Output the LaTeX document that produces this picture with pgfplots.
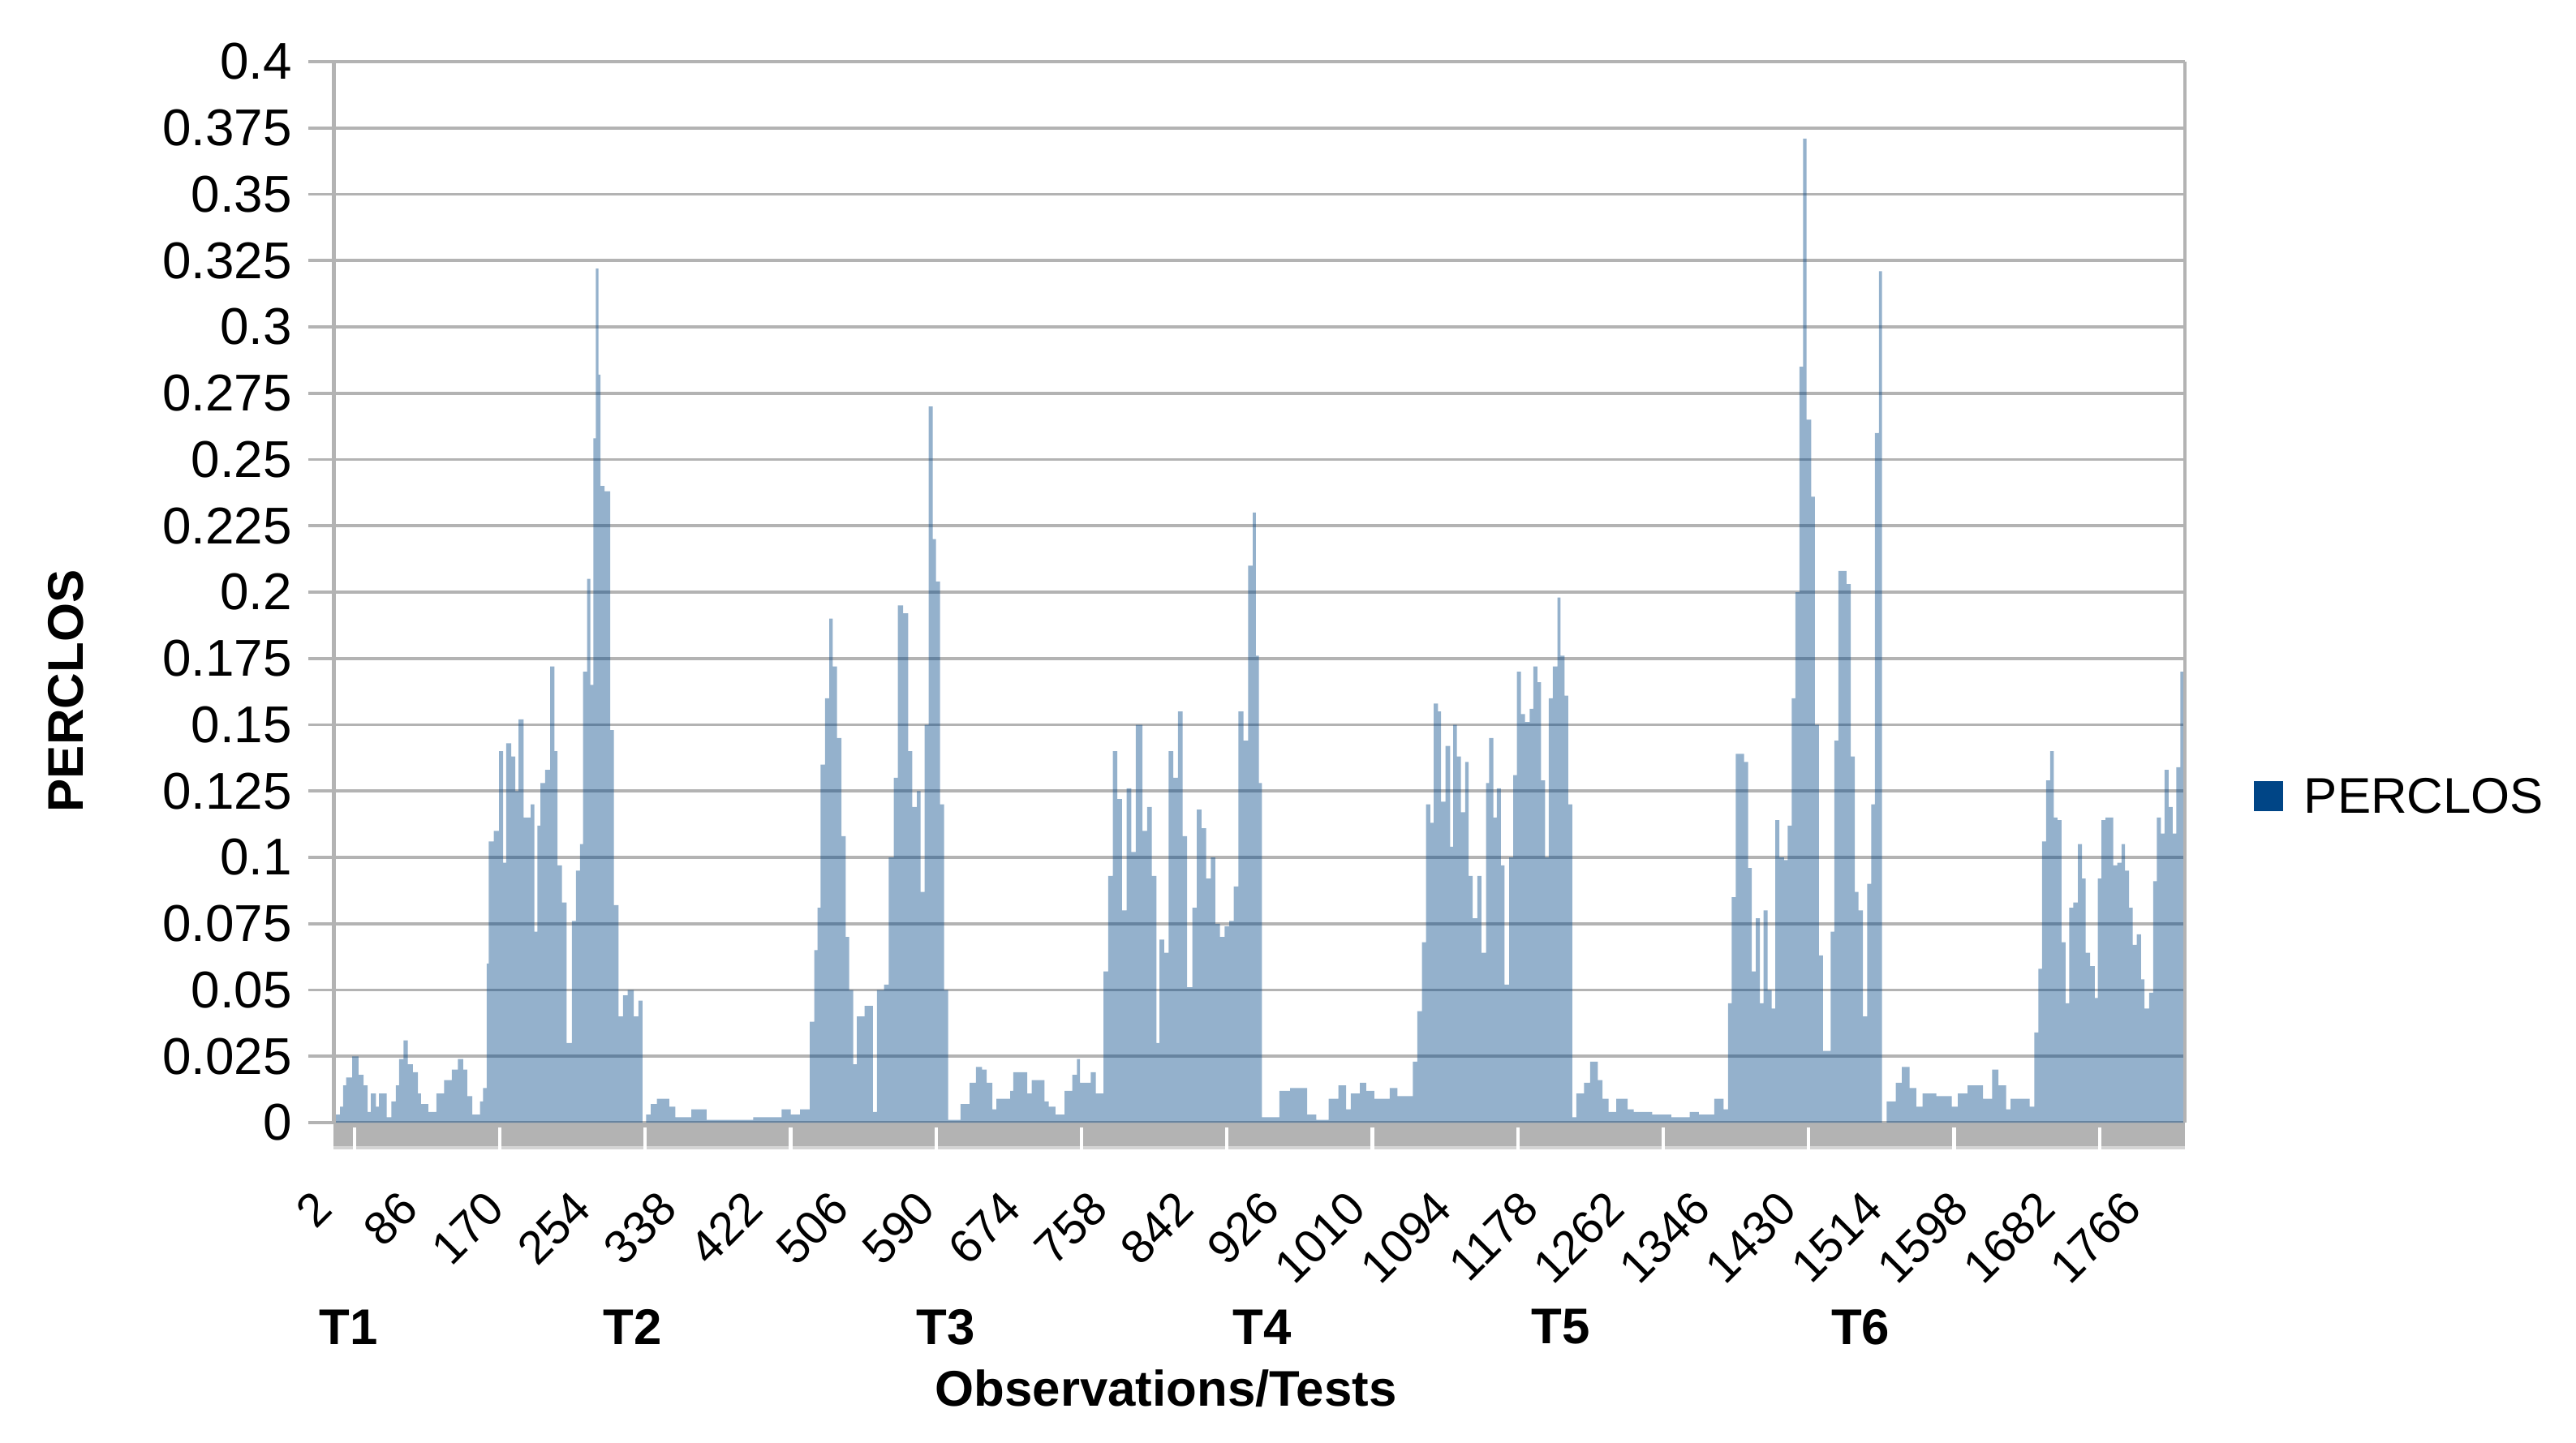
\documentclass[border=0pt]{standalone}
\usepackage{fontspec}
\setmainfont{Liberation Sans}
\usepackage{pgfplots}
\pgfplotsset{compat=1.18}
\definecolor{gridgray}{RGB}{179,179,179}
\definecolor{bandlight}{RGB}{212,212,212}
\definecolor{lobl}{RGB}{0,69,134}
\begin{document}
\begin{tikzpicture}
\path[use as bounding box] (-102.875bp,-98.75bp) rectangle (690.875bp,346bp);
\begin{axis}[
  at={(0,0)}, anchor=south west,
  scale only axis, width=570.4bp, height=327bp,
  xmin=0, xmax=1805, ymin=0, ymax=0.4,
  clip=false,
  axis line style={draw=none},
  ymajorgrids, grid style={draw=gridgray, line width=0.9bp},
  ytick={0,0.025,0.05,0.075,0.1,0.125,0.15,0.175,0.2,0.225,0.25,0.275,0.3,0.325,0.35,0.375,0.4},
  yticklabels={0,0.025,0.05,0.075,0.1,0.125,0.15,0.175,0.2,0.225,0.25,0.275,0.3,0.325,0.35,0.375,0.4},
  ytick pos=left, tick align=outside, major tick length=7.75bp,
  ytick style={draw=gridgray, line width=0.9bp},
  xtick={1.5,85.5,169.5,253.5,337.5,421.5,505.5,589.5,673.5,757.5,841.5,925.5,1009.5,1093.5,1177.5,1261.5,1345.5,1429.5,1513.5,1597.5,1681.5,1765.5},
  xticklabels={2,86,170,254,338,422,506,590,674,758,842,926,1010,1094,1178,1262,1346,1430,1514,1598,1682,1766},
  xtick style={draw=none},
  yticklabel style={font=\fontsize{16}{19}\selectfont, anchor=east, inner sep=0pt, xshift=-5bp},
  xticklabel style={font=\fontsize{14.5}{17}\selectfont, rotate=45, anchor=north east, inner sep=0pt, yshift=-3.5bp, xshift=-14bp},
  /pgf/number format/assume math mode=true,
]
\addplot[const plot mark left, draw=none, fill=lobl, fill opacity=0.42] coordinates {
(0,0.003)(6,0.006)(9,0.014)(12,0.017)(18,0.025)(24,0.018)(29,0.014)(33,0.004)(36,0.011)(41,0.006)(44,0.011)(51.5,0.002)(56,0.008)(60.5,0.014)(63.5,0.024)(68,0.031)(72,0.022)(77,0.019)(82,0.011)(85,0.007)(92,0.004)(100,0.011)(107.5,0.016)(115,0.020)(121,0.024)(126,0.020)(130,0.010)(135,0.003)(142.5,0.008)(145.5,0.013)
(149,0.06)(151,0.106)(156,0.110)(161,0.140)(165,0.098)(168,0.143)(173,0.138)(177,0.125)(180,0.152)(185,0.115)(192,0.120)(195.5,0.072)(198.5,0.112)(201.5,0.128)(206,0.133)(211,0.172)(215,0.140)(218,0.097)(222.5,0.083)(227,0.030)(232,0.076)(236,0.095)(240,0.105)(243,0.170)(247,0.205)(250,0.165)(253,0.258)(255.5,0.322)(258,0.282)(260,0.240)(264,0.238)(269.5,0.148)(273,0.082)(277.5,0.040)(282,0.048)(286.5,0.050)(292.5,0.040)(297,0.046)(301,0.0)
(304.5,0.003)(309,0.007)(315,0.009)(327,0.006)(333,0.002)(348.5,0.005)(363.5,0.001)(385,0.001)(409,0.002)(436.5,0.005)(445.5,0.003)(454.5,0.005)
(464,0.038)(468.5,0.065)(471.5,0.081)(474.5,0.135)(479,0.16)(483,0.19)(486.5,0.172)(490.5,0.145)(495,0.108)(499,0.07)(502.5,0.05)(506.5,0.022)(510,0.040)(517.5,0.044)(525.5,0.004)(529.5,0.05)(536.5,0.052)(541,0.100)(546,0.13)(550,0.195)(555,0.192)(560,0.14)(564,0.119)(568.5,0.125)(572,0.087)(576,0.15)(580,0.27)(584,0.22)(587,0.204)(591,0.12)(595,0.05)(599,0.001)
(611,0.007)(620,0.015)(626,0.021)(632,0.02)(636.5,0.015)(642,0.005)(646,0.009)(659.5,0.012)(662.5,0.019)(676,0.011)(680.5,0.016)(693,0.008)(697,0.006)(703.5,0.003)(712.5,0.012)(720,0.018)(724.5,0.024)(727.5,0.015)(738,0.019)(743,0.011)
(750.5,0.057)(755,0.093)(759.5,0.14)(764,0.122)(768.5,0.08)(773,0.126)(777.5,0.102)(782,0.15)(788.5,0.11)(793,0.119)(797.5,0.093)(802,0.03)(805,0.069)(809.5,0.064)(814,0.14)(818.5,0.13)(823,0.155)(827.5,0.108)(832,0.051)(837,0.081)(841.5,0.118)(846,0.111)(850.5,0.092)(855,0.1)(859.5,0.075)(864,0.07)(868.5,0.074)(873,0.076)(877.5,0.089)(882,0.155)(887,0.144)(891.5,0.21)(896,0.23)(899,0.176)(902,0.128)(905,0.002)
(922,0.012)(932.5,0.013)(949,0.003)(958,0.001)(970,0.009)(979.5,0.014)(987,0.005)(991.5,0.011)(1000.5,0.015)(1006.5,0.012)(1014.5,0.009)(1029.5,0.013)(1037,0.010)(1052,0.023)(1056.5,0.042)
(1061,0.068)(1065,0.12)(1069,0.113)(1072.5,0.158)(1076.5,0.155)(1079.5,0.121)(1084,0.142)(1088.5,0.104)(1091.5,0.15)(1095,0.138)(1099,0.117)(1103,0.136)(1106.5,0.093)(1110.5,0.077)(1115,0.093)(1119,0.064)(1123.5,0.128)(1126.5,0.145)(1130.5,0.115)(1134,0.126)(1138,0.097)(1141.5,0.052)(1146,0.1)(1150,0.131)(1153.5,0.17)(1157.5,0.154)(1161.5,0.151)(1166,0.156)(1169.5,0.172)(1173.5,0.166)(1177,0.129)(1181,0.1)(1184.5,0.16)(1188.5,0.172)(1193,0.198)(1196,0.176)(1200,0.161)(1203.5,0.12)(1207.5,0.002)
(1211.5,0.011)(1219,0.015)(1225,0.023)(1232.5,0.016)(1237,0.009)(1243,0.004)(1250.5,0.009)(1261.5,0.005)(1267.5,0.004)(1285.5,0.003)(1304,0.002)(1322,0.004)(1331,0.003)(1346,0.009)(1355,0.005)
(1359.5,0.045)(1363,0.085)(1367,0.139)(1371.5,0.139)(1375,0.136)(1379,0.096)(1382.5,0.057)(1386.5,0.077)(1390.5,0.045)(1394,0.08)(1398,0.05)(1402,0.043)(1405.5,0.114)(1409.5,0.1)(1414,0.099)(1417.5,0.112)(1421.5,0.16)(1425,0.2)(1429,0.285)(1432.5,0.371)(1436,0.265)(1440.5,0.236)(1444,0.15)(1448,0.063)(1452,0.027)(1459.5,0.072)(1463,0.144)(1467,0.208)(1471.5,0.208)(1475,0.203)(1479,0.138)(1483,0.087)(1486.5,0.08)(1491,0.04)(1495,0.09)(1499,0.12)(1502.5,0.26)(1506.5,0.321)(1509.5,0.0)
(1514,0.008)(1523,0.015)(1529,0.021)(1536.5,0.013)(1543,0.006)(1549,0.011)(1562.5,0.01)(1577.5,0.006)(1583.5,0.011)(1593,0.014)(1608,0.009)(1617,0.02)(1623,0.014)(1630.5,0.005)(1635,0.009)(1653.5,0.006)
(1658,0.034)(1662,0.058)(1665.5,0.106)(1669.5,0.129)(1673.5,0.14)(1677,0.115)(1680.5,0.114)(1684.5,0.068)(1688.5,0.045)(1692,0.081)(1696,0.083)(1700.5,0.105)(1704.5,0.092)(1708,0.064)(1712.5,0.059)(1717,0.047)(1720,0.092)(1723.5,0.114)(1727.5,0.115)(1735,0.097)(1739,0.098)(1743,0.105)(1746.5,0.095)(1750.5,0.081)(1754,0.067)(1758,0.071)(1762,0.054)(1765.5,0.043)(1770,0.049)(1774,0.091)(1777.5,0.115)(1781.5,0.109)(1785,0.133)(1789,0.119)(1793,0.109)(1796.5,0.134)(1800.5,0.17)(1805,0.17)
} \closedcycle;
% axis frame lines
\draw[gridgray, line width=1.15bp] (rel axis cs:0,0) -- (rel axis cs:0,1);
\draw[gridgray, line width=1.0bp] (rel axis cs:1,0) -- (rel axis cs:1,1);
% grey band under the axis
\fill[gridgray] ([yshift=-0.4bp]rel axis cs:0,0) rectangle ([yshift=-8.3bp]rel axis cs:1,0);
\fill[bandlight] ([yshift=-7.3bp]rel axis cs:0,0) rectangle ([yshift=-8.3bp]rel axis cs:1,0);
\foreach \t in {20,161.8,303.6,445.4,587.2,729,870.8,1012.6,1154.4,1296.2,1438,1579.8,1721.6}{
  \edef\temp{\noexpand\draw[white, line width=1.1bp] ([yshift=-1.5bp]axis cs:\t,0) -- ([yshift=-8.3bp]axis cs:\t,0);}\temp
}
% titles
\node[font=\fontsize{15.5}{18}\selectfont\bfseries, rotate=90] at ([xshift=-82.6bp, yshift=133bp]rel axis cs:0,0) {PERCLOS};
\node[font=\fontsize{15.5}{18}\selectfont\bfseries] at ([xshift=256.4bp, yshift=-82bp]rel axis cs:0,0) {Observations/Tests};
\node[font=\fontsize{15.5}{18}\selectfont\bfseries] at ([xshift=4.6bp, yshift=-63bp]rel axis cs:0,0) {T1};
\node[font=\fontsize{15.5}{18}\selectfont\bfseries] at ([xshift=92bp, yshift=-63bp]rel axis cs:0,0) {T2};
\node[font=\fontsize{15.5}{18}\selectfont\bfseries] at ([xshift=188.5bp, yshift=-63bp]rel axis cs:0,0) {T3};
\node[font=\fontsize{15.5}{18}\selectfont\bfseries] at ([xshift=286bp, yshift=-63bp]rel axis cs:0,0) {T4};
\node[font=\fontsize{15.5}{18}\selectfont\bfseries] at ([xshift=378bp, yshift=-63bp]rel axis cs:0,0) {T5};
\node[font=\fontsize{15.5}{18}\selectfont\bfseries] at ([xshift=470.4bp, yshift=-63bp]rel axis cs:0,0) {T6};
% legend
\fill[lobl] ([xshift=591.5bp, yshift=96.1bp]rel axis cs:0,0) rectangle ([xshift=600.7bp, yshift=105.3bp]rel axis cs:0,0);
\node[anchor=west, inner sep=0pt, font=\fontsize{15.5}{18}\selectfont] at ([xshift=606.9bp, yshift=100.75bp]rel axis cs:0,0) {PERCLOS};
\end{axis}
\end{tikzpicture}
\end{document}
